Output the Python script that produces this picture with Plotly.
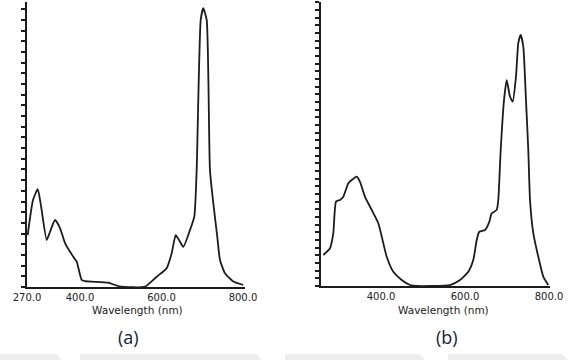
import plotly.graph_objects as go

# Panel (a) spectrum
wl_a = [271.7, 284.7, 296.3, 304.0, 318.3, 326.4, 338.7, 351.0, 363.3, 383.6, 392.0,
        404.2, 412.3, 469.5, 486.0, 502.4, 559.6, 588.3, 612.8, 625.0, 634.9, 643.0,
        653.6, 670.0, 680.6, 686.4, 696.3, 702.6, 711.0, 719.0, 727.2, 737.0, 743.6,
        755.9, 776.3, 800.8]
abs_a = [18.2, 30.5, 34.3, 28.8, 16.5, 19.3, 23.5, 20.7, 15.4, 10.6, 8.9,
         2.5, 2.1, 1.5, 0.7, 0.1, 0.1, 3.6, 6.6, 11.8, 18.2, 16.5,
         14.1, 20.0, 24.7, 41.0, 93.7, 97.8, 93.7, 41.0, 29.4, 17.6, 9.5,
         4.8, 1.9, 0.7]

# Panel (b) spectrum
wl_b = [262.6, 278.6, 286.4, 292.9, 302.4, 310.2, 322.1, 330.2, 342.1, 350.0, 361.9,
        377.9, 393.6, 401.7, 413.6, 429.3, 449.3, 469.0, 485.0, 564.3, 588.1, 607.9,
        619.8, 627.9, 634.0, 647.6, 657.9, 663.6, 675.5, 679.3, 685.0, 692.9, 699.3,
        707.1, 713.6, 721.4, 726.9, 732.6, 738.8, 745.2, 750.7, 754.8, 762.6, 774.5,
        786.4, 798.3]
abs_b = [10.9, 13.3, 18.6, 29.7, 30.3, 31.4, 36.2, 37.3, 38.5, 36.7, 31.4,
         26.8, 22.1, 17.4, 10.3, 5.0, 2.1, 0.35, 0.0, 0.35, 2.1, 5.0,
         9.2, 16.2, 19.1, 19.7, 22.6, 25.6, 26.8, 30.3, 47.9, 65.5, 72.5,
         66.7, 64.9, 73.7, 85.5, 88.4, 84.3, 65.5, 47.9, 30.3, 18.6, 10.3,
         3.3, 0.35]

ticks_a = [270, 400, 600, 800]
ticks_b = [400, 600, 800]
ticktext_a = ["270.0", "400.0", "600.0", "800.0"]
ticktext_b = ["400.0", "600.0", "800.0"]

W, H = 568, 360
line_col = "#1c1c1c"
txt_col = "#222222"

fig = go.Figure()
fig.add_trace(go.Scatter(x=wl_a, y=abs_a, mode="lines", xaxis="x", yaxis="y",
                         line=dict(color=line_col, width=1.8, shape="spline", smoothing=0.5),
                         showlegend=False, hoverinfo="skip"))
fig.add_trace(go.Scatter(x=wl_b, y=abs_b, mode="lines", xaxis="x2", yaxis="y2",
                         line=dict(color=line_col, width=1.8, shape="spline", smoothing=0.5),
                         showlegend=False, hoverinfo="skip"))

xcommon = dict(showline=True, linewidth=2, linecolor=line_col, showgrid=False,
               zeroline=False, ticks="", automargin=False,
               tickfont=dict(family="DejaVu Sans", size=10, color=txt_col),
               fixedrange=True)
ycommon = dict(showline=True, linewidth=2, linecolor=line_col, showgrid=False,
               zeroline=False, ticks="outside", ticklen=4, tickwidth=1.5, tickcolor=line_col,
               showticklabels=False, range=[0, 100], fixedrange=True, automargin=False)

fig.update_layout(
    template="none",
    width=W, height=H,
    margin=dict(l=0, r=0, t=0, b=0, pad=0),
    paper_bgcolor="white", plot_bgcolor="white",
    xaxis=dict(domain=[27 / W, 245 / W], range=[270, 805], tickvals=ticks_a,
               ticktext=ticktext_a, anchor="y", **xcommon),
    yaxis=dict(domain=[1 - 287 / H, 1 - 2 / H], anchor="x", tick0=0, dtick=3.75, **ycommon),
    xaxis2=dict(domain=[321 / W, 550 / W], range=[257.1, 802.4], tickvals=ticks_b,
                ticktext=ticktext_b, anchor="y2", **xcommon),
    yaxis2=dict(domain=[1 - 286 / H, 1 - 2 / H], anchor="x2", tick0=0, dtick=2.7, **ycommon),
)

# Bottom faint watermark band
band = [(0, 62), (80, 262), (285, 425), (448, 568)]
for x0, x1 in band:
    fig.add_shape(type="path",
                  path=f"M {x0/W} {0} L {x1/W} {0} L {(x1 - 6)/W} {6/H} L {(x0 + 0)/W} {6/H} Z",
                  xref="paper", yref="paper", fillcolor="#eeeeee", line=dict(width=0),
                  layer="below")

annots = [
    dict(x=137 / W, y=1 - 310 / H, text="Wavelength (nm)", font=dict(family="DejaVu Sans", size=10.5, color=txt_col)),
    dict(x=443 / W, y=1 - 310 / H, text="Wavelength (nm)", font=dict(family="DejaVu Sans", size=10.5, color=txt_col)),
    dict(x=128 / W, y=1 - 337 / H, text="(a)", font=dict(family="Open Sans", size=18, color="#14213a")),
    dict(x=447 / W, y=1 - 337 / H, text="(b)", font=dict(family="Open Sans", size=18, color="#14213a")),
]
for a in annots:
    fig.add_annotation(xref="paper", yref="paper", showarrow=False, xanchor="center",
                       yanchor="middle", **a)

fig.write_html("out.html")
